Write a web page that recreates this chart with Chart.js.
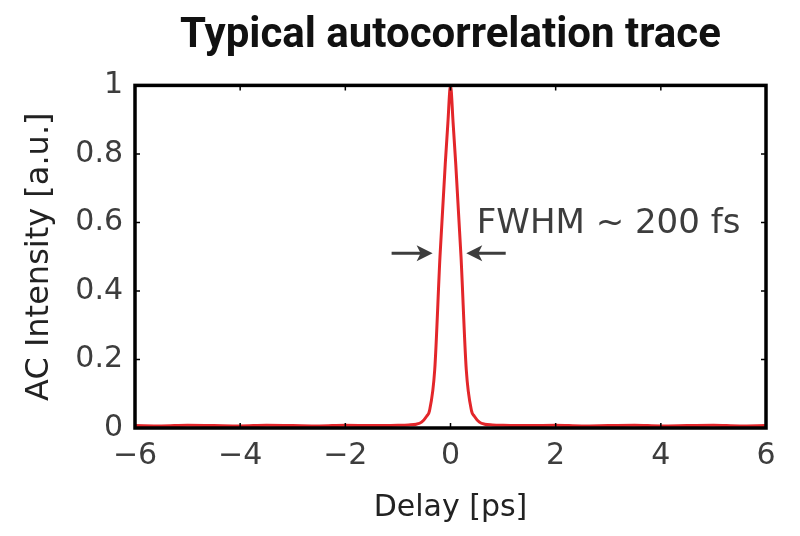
<!DOCTYPE html>
<html>
<head>
<meta charset="utf-8">
<script src="https://cdn.jsdelivr.net/npm/chart.js@4/dist/chart.umd.min.js"></script>
<style>
  html,body{margin:0;padding:0;background:#fff;}
  #wrap{width:800px;height:536px;}
</style>
</head>
<body>
<div id="wrap"><canvas id="c" width="800" height="536"></canvas></div>
<script>
// delay in ps, AC intensity in a.u.
const delay = [-6,-5.5,-5,-4.5,-4,-3.5,-3,-2.5,-2,-1.5,-1,-0.8,-0.65,-0.55,-0.45,-0.4,-0.3,-0.2,-0.1,-0.05,0,0.05,0.1,0.2,0.3,0.4,0.45,0.55,0.65,0.8,1,1.5,2,2.5,3,3.5,4,4.5,5,5.5,6];
const intensity = [0.007,0.006,0.008,0.007,0.006,0.008,0.007,0.006,0.008,0.007,0.008,0.009,0.011,0.017,0.035,0.05,0.17,0.5,0.77,0.89,1.0,0.89,0.77,0.5,0.17,0.05,0.035,0.017,0.011,0.009,0.008,0.007,0.008,0.006,0.007,0.008,0.006,0.007,0.008,0.006,0.007];
const xTicks = [-6,-4,-2,0,2,4,6];
const xTickLabels = ["\u22126","\u22124","\u22122","0","2","4","6"];
const yTickLabels = ["0","0.2","0.4","0.6","0.8","1"];
const fwhmText = "FWHM ~ 200 fs";
const arrowY = 0.51;
const leftArrow = [-1.12, -0.34];   // tail, tip
const rightArrow = [1.05, 0.30];

const GREY = "#3d3d3d", DARK = "#222", RED = "#e3262a";
const FONT = "'DejaVu Sans', sans-serif";

const framePlugin = {
  id: "frame",
  afterDatasetsDraw(chart){
    const {ctx, chartArea:a, scales:{x, y}} = chart;
    ctx.save();
    ctx.strokeStyle = "#000";
    ctx.lineWidth = 1.5;
    x.ticks.forEach(t=>{ const p=x.getPixelForValue(t.value);
      ctx.beginPath(); ctx.moveTo(p,a.bottom); ctx.lineTo(p,a.bottom-5); ctx.moveTo(p,a.top); ctx.lineTo(p,a.top+5); ctx.stroke(); });
    y.ticks.forEach(t=>{ const p=y.getPixelForValue(t.value);
      ctx.beginPath(); ctx.moveTo(a.left,p); ctx.lineTo(a.left+5,p); ctx.moveTo(a.right,p); ctx.lineTo(a.right-5,p); ctx.stroke(); });
    ctx.lineWidth = 3.5;
    ctx.strokeRect(a.left, a.top, a.right-a.left, a.bottom-a.top);
    // arrows
    ctx.strokeStyle = GREY; ctx.fillStyle = GREY; ctx.lineWidth = 3;
    [leftArrow, rightArrow].forEach(([t0,t1])=>{
      const x0=x.getPixelForValue(t0), x1=x.getPixelForValue(t1), py=y.getPixelForValue(arrowY);
      const d = Math.sign(x1-x0);
      ctx.beginPath(); ctx.moveTo(x0,py); ctx.lineTo(x1-d*6,py); ctx.stroke();
      ctx.beginPath(); ctx.moveTo(x1,py); ctx.lineTo(x1-d*16,py-8); ctx.lineTo(x1-d*12,py); ctx.lineTo(x1-d*16,py+8); ctx.closePath(); ctx.fill();
    });
    ctx.font = "34px " + FONT;
    ctx.textAlign = "left"; ctx.textBaseline = "alphabetic";
    ctx.fillText(fwhmText, x.getPixelForValue(0.5), y.getPixelForValue(0.57));
    ctx.restore();
  }
};

new Chart(document.getElementById("c"), {
  type: "line",
  data: { datasets: [{ data: delay.map((d,i)=>({x:d, y:intensity[i]})),
    borderColor: RED, borderWidth: 3, pointRadius: 0, fill: false, cubicInterpolationMode: "monotone" }] },
  options: {
    responsive: false, animation: false,
    layout: { padding: { left: 0, right: 34, top: 0, bottom: 0 } },
    plugins: {
      legend: { display: false }, tooltip: { enabled: false },
      title: { display: true, fullSize: false, text: "Typical autocorrelation trace", color: "#111",
        font: { family: "Roboto, sans-serif", size: 42, weight: "bold" }, padding: { top: 11, bottom: 24 } }
    },
    scales: {
      x: { type: "linear", min: -6, max: 6,
        afterBuildTicks: s => { s.ticks = xTicks.map(v=>({value:v})); },
        afterFit: s => { s.height = 108; },
        grid: { display: false, drawTicks: false }, border: { display: false },
        ticks: { color: GREY, font: { family: FONT, size: 30 }, padding: 10, maxRotation: 0,
          callback: v => xTickLabels[xTicks.indexOf(v)] },
        title: { display: true, text: "Delay [ps]", color: DARK, font: { family: FONT, size: 30 }, padding: { bottom: 10 } } },
      y: { min: 0, max: 1,
        ticks: { stepSize: 0.2, color: GREY, font: { family: FONT, size: 30 }, padding: 12,
          callback: (v, i) => yTickLabels[i] },
        afterFit: s => { s.width = 135; },
        grid: { display: false, drawTicks: false }, border: { display: false },
        title: { display: true, text: "AC Intensity [a.u.]", color: DARK, font: { family: FONT, size: 32 }, padding: { top: 20 } } }
    }
  },
  plugins: [framePlugin]
});
</script>
</body>
</html>
